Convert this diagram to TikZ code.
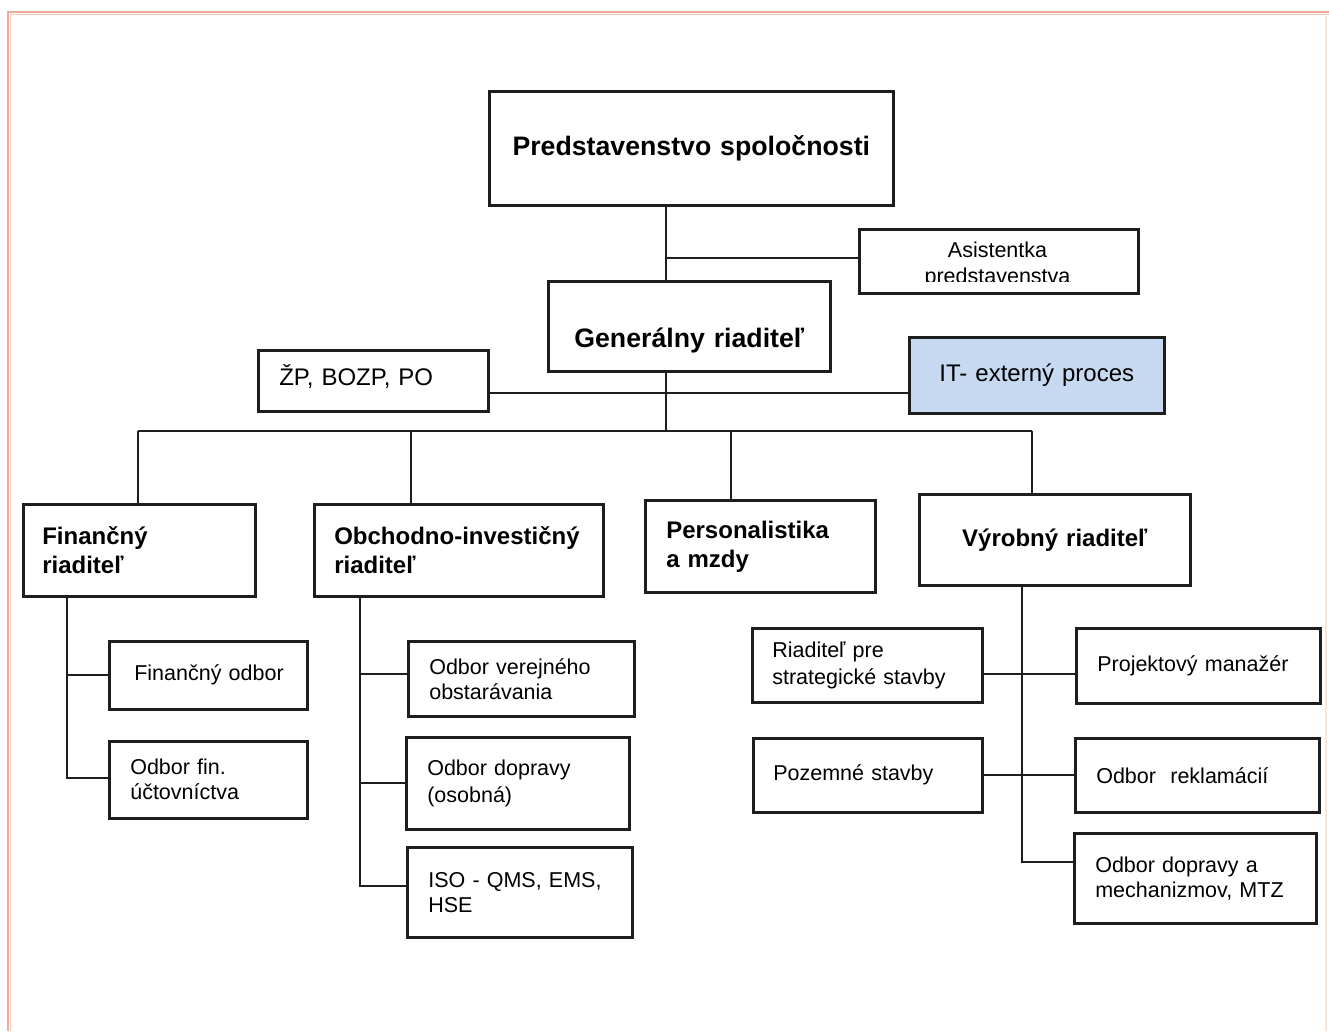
\documentclass[tikz,border=0pt]{standalone}
\usepackage{fontspec}
\setmainfont{Liberation Sans}
\definecolor{linec}{RGB}{30,30,30}
\definecolor{itblue}{RGB}{198,217,241}
\definecolor{borda}{RGB}{236,172,152}
\definecolor{bordb}{RGB}{246,204,190}
\definecolor{bordc}{RGB}{251,228,218}
\tikzset{
  box/.style={draw=linec, line width=2.6pt, fill=white, rectangle, inner ysep=0pt, anchor=north west, align=left},
  cbox/.style={box, align=center},
  conn/.style={draw=linec, line width=2.3pt},
  fbig/.style={font=\fontsize{26.7}{32}\selectfont\bfseries},
  fhd/.style={font=\fontsize{24}{29}\selectfont\bfseries},
  fmid/.style={font=\fontsize{24}{28}\selectfont},
  fsm/.style={font=\fontsize{21.5}{25}\selectfont},
  fsmb/.style={font=\fontsize{21.5}{27}\selectfont},
}
\begin{document}
\begin{tikzpicture}[x=1pt,y=-1pt]
\useasboundingbox (0,0) rectangle (1329,1031);
% page border
\draw[borda, line width=1.4pt] (8,1031) -- (8,12) -- (1329,12);
\draw[bordb, line width=1.4pt] (10.5,1031) -- (10.5,14.5) -- (1329,14.5);
\draw[bordc, line width=1.5pt] (1326,16) -- (1326,1031);

% coordinates for connector routes
\coordinate (trunk) at (666,0);
\coordinate (staff) at (0,393);
\coordinate (b1) at (138,431);
\coordinate (b2) at (411,431);
\coordinate (b3) at (731,431);
\coordinate (b4) at (1032,431);
\coordinate (fsp) at (67,0);
\coordinate (osp) at (360,0);
\coordinate (vsp) at (1022,0);

% top level
\node[cbox, fbig, minimum width=404pt, minimum height=114pt, text width=384pt, inner xsep=10pt] (pred) at (488,90) {\mbox{Predstavenstvo spoločnosti}};
\node[box, minimum width=279pt, minimum height=64pt, inner xsep=0pt] (asist) at (858,228) {};
\begin{scope}
  \clip (861,231) rectangle (1134,281.5);
  \node[fsm, align=center, inner sep=0pt, anchor=north] (asisttxt) at (997.5,242) {Asistentka\\[1pt]predstavenstva};
\end{scope}
\node[cbox, fbig, minimum width=282pt, minimum height=90pt, text width=262pt, inner xsep=10pt] (gen) at (547,280) {\raisebox{-14pt}[\height][\depth]{\mbox{Generálny riaditeľ}}};
\node[box, fmid, minimum width=230pt, minimum height=61pt, text width=188pt, inner xsep=21pt] (zp) at (257,349) {\raisebox{4pt}[\height][\depth]{\mbox{ŽP, BOZP, PO}}};
\node[cbox, fmid, fill=itblue, minimum width=255pt, minimum height=76pt, text width=235pt, inner xsep=10pt] (it) at (908,336) {\mbox{IT- externý proces}};

% second level
\node[box, fhd, minimum width=232pt, minimum height=92pt, text width=194pt, inner xsep=19pt] (fin) at (22,503) {\mbox{Finančný}\\\mbox{riaditeľ}};
\node[box, fhd, minimum width=289pt, minimum height=92pt, text width=249pt, inner xsep=20pt] (obch) at (313,503) {\mbox{Obchodno-investičný}\\\mbox{riaditeľ}};
\node[box, fhd, minimum width=230pt, minimum height=92pt, text width=188pt, inner xsep=21pt] (pers) at (644,499) {\mbox{Personalistika}\\\mbox{a mzdy}};
\node[cbox, fhd, minimum width=271pt, minimum height=91pt, text width=251pt, inner xsep=10pt] (vyr) at (918,493) {\mbox{Výrobný riaditeľ}};

% third level - finance
\node[box, fsm, minimum width=198pt, minimum height=68pt, text width=148pt, inner xsep=25pt] (fodb) at (108,640) {\mbox{Finančný odbor}};
\node[box, fsm, minimum width=198pt, minimum height=77pt, text width=156pt, inner xsep=21pt] (fuct) at (108,740) {\mbox{Odbor fin.}\\\mbox{účtovníctva}};

% third level - commercial
\node[box, fsm, minimum width=226pt, minimum height=75pt, text width=184pt, inner xsep=21pt] (ovo) at (407,640) {\mbox{Odbor verejného}\\\mbox{obstarávania}};
\node[box, fsmb, minimum width=223pt, minimum height=92pt, text width=181pt, inner xsep=21pt] (odop) at (405,736) {\mbox{Odbor dopravy}\\\mbox{(osobná)}};
\node[box, fsm, minimum width=225pt, minimum height=90pt, text width=183pt, inner xsep=21pt] (iso) at (406,846) {\mbox{ISO - QMS, EMS,}\\\mbox{HSE}};

% third level - production
\node[box, fsmb, minimum width=230pt, minimum height=74pt, text width=190pt, inner xsep=20pt] (rss) at (751,627) {\mbox{Riaditeľ pre}\\\mbox{strategické stavby}};
\node[box, fsm, minimum width=244pt, minimum height=75pt, text width=202pt, inner xsep=21pt] (proj) at (1075,627) {\mbox{Projektový manažér}};
\node[box, fsm, minimum width=229pt, minimum height=74pt, text width=189pt, inner xsep=20pt] (poz) at (752,737) {\mbox{Pozemné stavby}};
\node[box, fsm, minimum width=244pt, minimum height=74pt, text width=202pt, inner xsep=21pt] (rekl) at (1074,737) {\mbox{Odbor\ \ reklamácií}};
\node[box, fsm, minimum width=242pt, minimum height=90pt, text width=200pt, inner xsep=21pt] (odm) at (1073,832) {\mbox{Odbor dopravy a}\\\mbox{mechanizmov, MTZ}};

% connectors
\coordinate (aw) at ([yshift=3pt]asist.west);
\coordinate (rp) at ([yshift=-9pt]rss.east);
\draw[conn] (pred.south -| trunk) -- (gen.north -| trunk);
\draw[conn] (trunk |- aw) -- (aw);
\draw[conn] (gen.south -| trunk) -- (trunk |- b1);
\draw[conn] (zp.east |- staff) -- (it.west |- staff);
\draw[conn] (b1) -- (b4);
\draw[conn] (b1) -- (b1 |- fin.north);
\draw[conn] (b2) -- (b2 |- obch.north);
\draw[conn] (b3) -- (b3 |- pers.north);
\draw[conn] (b4) -- (b4 |- vyr.north);
\draw[conn] (fin.south -| fsp) |- (fodb.west);
\draw[conn] (fin.south -| fsp) |- ([yshift=2pt]fuct.west);
\draw[conn] (obch.south -| osp) |- ([yshift=5pt]ovo.west);
\draw[conn] (obch.south -| osp) |- (odop.west);
\draw[conn] (obch.south -| osp) |- ([yshift=6pt]iso.west);
\draw[conn] (vyr.south -| vsp) |- ([yshift=16pt]odm.west);
\draw[conn] (rp) -- (proj.west |- rp);
\draw[conn] (poz.east) -- (rekl.west);
\end{tikzpicture}
\end{document}
